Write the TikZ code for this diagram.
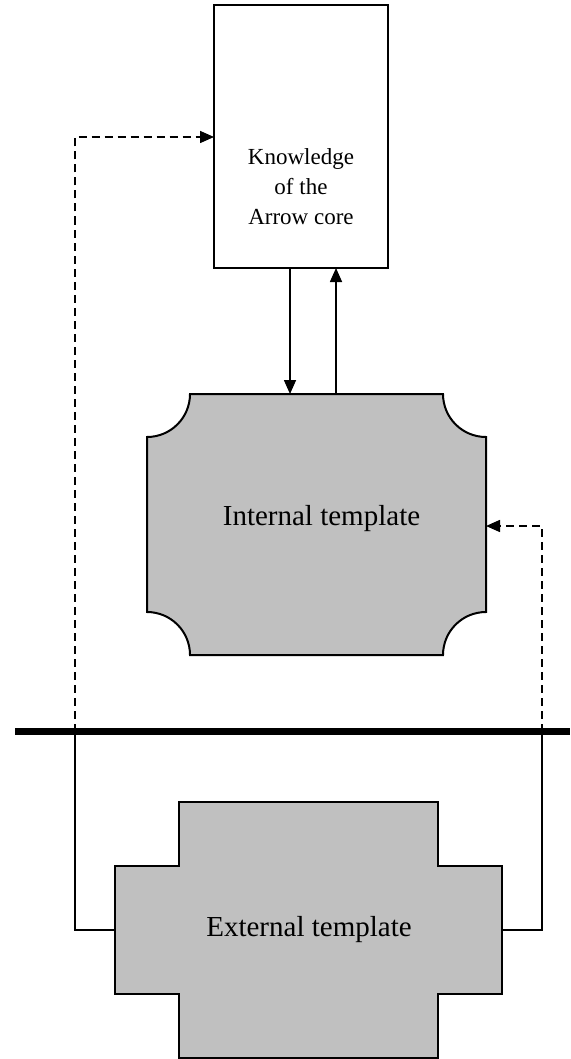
\documentclass[tikz,border=0pt]{standalone}
\usepackage{fontspec}
\setmainfont{Liberation Serif}
\usetikzlibrary{arrows.meta,calc}

\definecolor{shapegray}{RGB}{192,192,192}

\tikzset{
  outline/.style={draw=black, line width=2pt, line join=miter},
  link/.style={draw=black, line width=1.6pt},
  dashlink/.style={link, dash pattern=on 8pt off 5pt},
  tip/.style={-{Triangle[length=14pt,width=12pt]}},
  label/.style={font=\fontsize{29}{34}\selectfont, align=center, inner sep=0pt},
  smalllabel/.style={label, font=\fontsize{23}{30}\selectfont},
  anchorbox/.style={draw=none, inner sep=0pt, outer sep=0pt},
}

\begin{document}
\begin{tikzpicture}[x=1pt,y=-1pt]
\useasboundingbox (0,0) rectangle (570,1059);

% Knowledge box
\node[anchorbox, outline, minimum width=174pt, minimum height=263pt] (know) at (301,136.5) {};
\node[smalllabel] (knowtext) at (301,187) {Knowledge\\of the\\Arrow core};

% Internal template: rectangle with concave quarter-circle corners
\node[anchorbox, minimum width=339pt, minimum height=261pt] (int) at (316.5,524.5) {};
\fill[shapegray]
  (190,394) -- (443,394) arc[start angle=180, end angle=90, radius=43]
  -- (486,612) arc[start angle=270, end angle=180, radius=43]
  -- (190,655) arc[start angle=0, end angle=-90, radius=43]
  -- (147,437) arc[start angle=90, end angle=0, radius=43] -- cycle;
\draw[outline]
  (190,394) -- (443,394) arc[start angle=180, end angle=90, radius=43]
  -- (486,612) arc[start angle=270, end angle=180, radius=43]
  -- (190,655) arc[start angle=0, end angle=-90, radius=43]
  -- (147,437) arc[start angle=90, end angle=0, radius=43] -- cycle;
\node[label] (inttext) at (321.5,519) {Internal template};

% External template: cross-shaped outline
\node[anchorbox, minimum width=387pt, minimum height=256pt] (ext) at (308.5,930) {};
\draw[outline, fill=shapegray]
  (179,802) -- (438,802) -- (438,866) -- (502,866) -- (502,994)
  -- (438,994) -- (438,1058) -- (179,1058) -- (179,994) -- (115,994)
  -- (115,866) -- (179,866) -- cycle;
\node[label] (exttext) at (309,930) {External template};

% Divider
\coordinate (divL) at (15,731.5);
\coordinate (divR) at (570,731.5);
\draw[line width=6.5pt] (divL) -- (divR);

% Links between the knowledge box and the internal template
\draw[link, tip] (know.south -| 290,0) -- (int.north -| 290,0);
\draw[link, tip] (int.north -| 336,0) -- (know.south -| 336,0);

% Left feedback loop: external template to knowledge box
\coordinate (lbot) at (75,930);
\coordinate (lmid) at (75,731.5);
\coordinate (ltop) at (75,137);
\draw[link] (ext.west) -- (lbot) -- (lmid);
\draw[dashlink, tip] (lmid) -- (ltop) -- (know.west |- ltop);

% Right feedback loop: external template to internal template
\coordinate (rbot) at (542,930);
\coordinate (rmid) at (542,731.5);
\coordinate (rtop) at (542,526);
\draw[link] (ext.east) -- (rbot) -- (rmid);
\draw[dashlink, tip] (rmid) -- (rtop) -- (int.east |- rtop);
\end{tikzpicture}
\end{document}
